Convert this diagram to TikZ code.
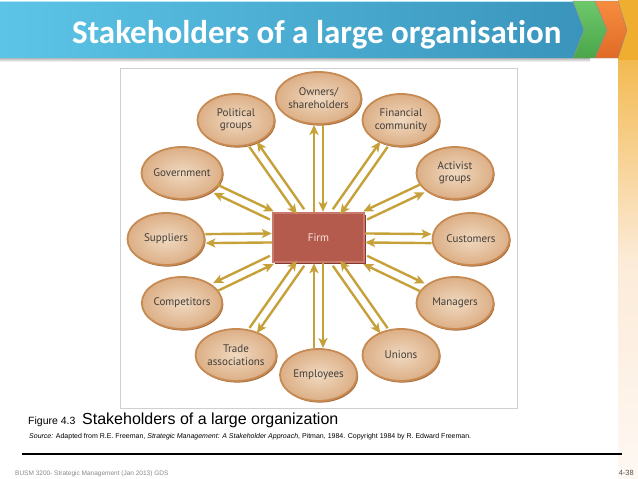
\documentclass[tikz,border=0pt]{standalone}
\usepackage{fontspec}
\setmainfont{Liberation Sans}
\newfontfamily\titlefont[Ligatures=NoCommon]{Carlito}
\newfontfamily\dinfont{PT Sans}
\usetikzlibrary{shapes.geometric,arrows.meta,calc,shadows}
\definecolor{arrowc}{HTML}{C6A13A}
\definecolor{stkfill}{HTML}{F0D9C0}
\definecolor{stkouter}{HTML}{DCAF86}
\definecolor{stkdraw}{HTML}{C68A52}
\definecolor{stkshadow}{HTML}{A96C3A}
\definecolor{stktext}{HTML}{423D39}
\definecolor{firmfill}{HTML}{B55B4D}
\definecolor{firmedge}{HTML}{C97A6C}
\definecolor{firmshadow}{HTML}{823A30}
\definecolor{firmtext}{HTML}{F7E6E0}
\definecolor{blueL}{HTML}{5CC5E7}
\definecolor{blueR}{HTML}{3A94BB}
\definecolor{greenT}{HTML}{6CC86A}
\definecolor{greenB}{HTML}{4AA648}
\definecolor{orangeT}{HTML}{F68D40}
\definecolor{orangeB}{HTML}{E06A26}
\definecolor{amber}{HTML}{F0AE30}
\definecolor{amberL}{HTML}{F3BA52}
\definecolor{peach}{HTML}{FCEBD8}
\definecolor{peachL}{HTML}{FEF8F3}
\definecolor{framegray}{HTML}{CFCFCF}
\definecolor{footgray}{HTML}{8A8A8A}
\definecolor{pagegray}{HTML}{555555}
\begin{document}
\begin{tikzpicture}[x=1pt,y=-1pt,
  stake/.style={ellipse, minimum width=77pt, minimum height=52pt, inner sep=0pt,
    draw=stkdraw, line width=1.8pt, inner color=stkfill, outer color=stkouter,
    general shadow={fill=stkshadow, shadow xshift=1.2pt, shadow yshift=-1.6pt},
    align=center, font=\dinfont\fontsize{11}{12.5}\selectfont, text=stktext},
  firmbox/.style={rectangle, minimum width=91pt, minimum height=49pt, inner sep=0pt,
    fill=firmfill, draw=firmedge, line width=2.4pt,
    general shadow={fill=firmshadow, shadow xshift=1.6pt, shadow yshift=-1.6pt},
    font=\dinfont\fontsize{11}{12}\selectfont, text=firmtext},
  arr/.style={draw=arrowc, line width=2.4pt, -{Stealth[length=10pt,width=9pt,inset=2.5pt]}},
  txt/.style={anchor=base west, inner sep=0pt}
]
\useasboundingbox (0,0) rectangle (638,479);
\fill[white] (0,0) rectangle (638,479);
% right amber band
\fill[amber] (618,0) rectangle (638,60);
\shade[top color=amberL, bottom color=peach] (618,60) rectangle (638,260);
\shade[top color=peach, bottom color=peachL] (618,260) rectangle (638,479);
% header
\shade[top color=black!35, bottom color=white] (0,57) rectangle (590,62);
\shade[left color=blueL, right color=blueR] (0,1) -- (573,1) -- (584,30) -- (573,58) -- (0,58) -- cycle;
\draw[white!55!blueL, line width=1pt] (0,1.5) -- (573,1.5);
\shade[top color=greenT, bottom color=greenB, draw=black!45, line width=0.4pt]
  (573,1) -- (595,1) -- (607,30) -- (595,58) -- (573,58) -- (584,30) -- cycle;
\shade[top color=orangeT, bottom color=orangeB, draw=black!45, line width=0.4pt]
  (595,1) -- (618,1) -- (627,30) -- (618,58) -- (595,58) -- (607,30) -- cycle;
\node[txt, text=white, font=\titlefont\bfseries\fontsize{33}{38}\selectfont] (title) at (72,43) {Stakeholders of a large organisation};
% figure frame
\draw[framegray, line width=0.8pt, fill=white] (120,68) rectangle (517,408);
% nodes
\node[firmbox] (firm) at (318.5,237.5) {Firm};
\node[stake] (own) at (318.5,98) {Owners/\\shareholders};
\node[stake] (fin) at (401,120) {Financial\\community};
\node[stake] (act) at (455,173) {Activist\\groups};
\node[stake] (cus) at (471,239) {Customers};
\node[stake] (man) at (455,303) {Managers};
\node[stake] (uni) at (401,355) {Unions};
\node[stake] (emp) at (318.5,375) {Employees};
\node[stake] (tra) at (236,355) {Trade\\associations};
\node[stake] (com) at (182,303) {Competitors};
\node[stake] (sup) at (166,239) {Suppliers};
\node[stake] (gov) at (182,173) {Government};
\node[stake] (pol) at (236,120) {Political\\groups};
% two-way arrows
\foreach \s/\a/\b in {own/90/-90, fin/90/-90, act/-90/90, cus/90/-90, man/90/-90, uni/-90/90,
                      emp/90/-90, tra/90/-90, com/-90/90, sup/90/-90, gov/90/-90, pol/-90/90}{
  \draw[arr, transform canvas={shift={($(firm)!4.5pt!\a:(\s) - (firm)$)}}] (firm) -- (\s);
  \draw[arr, transform canvas={shift={($(firm)!4.5pt!\b:(\s) - (firm)$)}}] (\s) -- (firm);
}
% caption
\node[txt, font=\fontsize{10.5}{12}\selectfont] (fig) at (28,424) {Figure 4.3};
\node[txt, font=\fontsize{16}{18}\selectfont] (cap) at (82,424) {Stakeholders of a large organization};
\node[txt, font=\fontsize{7}{8}\selectfont] (src) at (29,438.5) {\textit{Source:} Adapted from R.E. Freeman, \textit{Strategic Management: A Stakeholder Approach}, Pitman, 1984. Copyright 1984 by R. Edward Freeman.};
% footer
\draw[line width=1.2pt] (22,454) -- (622,454);
\node[txt, text=footgray, font=\fontsize{6.5}{8}\selectfont] (foot) at (15,475) {BUSM 3200- Strategic Management (Jan 2013) GDS};
\node[anchor=base east, inner sep=0pt, text=pagegray, font=\fontsize{7.5}{9}\selectfont] (page) at (634,475) {4-38};
\end{tikzpicture}
\end{document}
